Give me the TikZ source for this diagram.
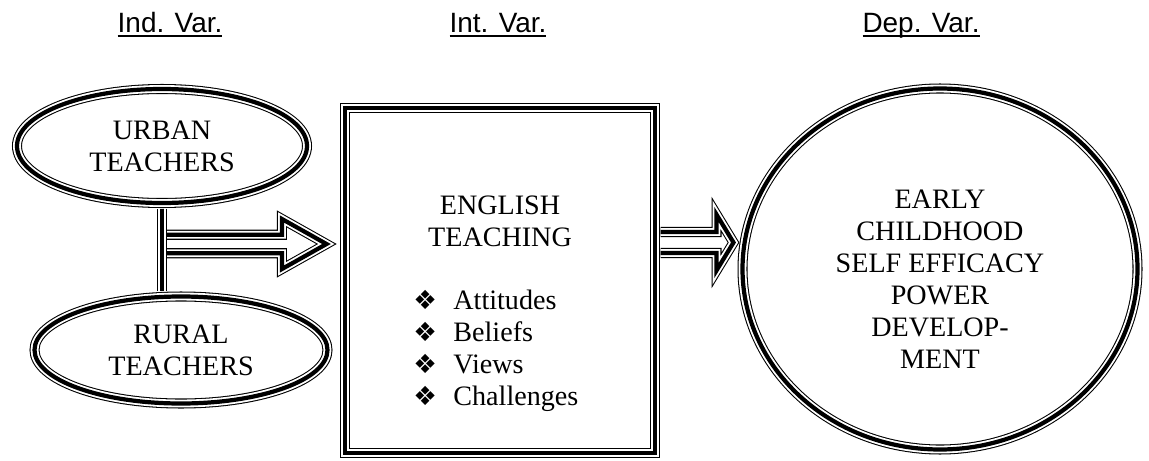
\documentclass[tikz,border=0pt]{standalone}
\usepackage{fontspec}
\setmainfont{Liberation Serif}
\newfontfamily\hdrfont{Liberation Sans}
\newfontfamily\dingfont{DejaVu Sans}
\usetikzlibrary{shapes.geometric,calc}

\newcommand\undl[1]{\setbox0\hbox{#1}\rlap{\rule[-2.4pt]{\wd0}{1.1pt}}\box0}
\newcommand\itm[1]{\makebox[22.8pt][l]{\dingfont\fontsize{15}{15}\selectfont ❖}#1}

\begin{document}
\begin{tikzpicture}[
    triple/.style={draw, double, double distance=4.5pt, line width=0.6pt, postaction={draw, line width=2.4pt}},
    txt/.style={font=\fontsize{16}{18.2}\selectfont, align=center, inner sep=0pt},
    hdr/.style={font=\hdrfont\fontsize{15.9}{18}\selectfont, inner sep=0pt, anchor=base},
    oval/.style={ellipse, triple, inner sep=0pt, txt}
  ]
            \useasboundingbox (0,0) rectangle (22.98,9.2);

            % Headings
            \node[hdr] (hind) at (3.4,8.54) {\undl{Ind. Var.}};
            \node[hdr] (hint) at (9.96,8.54) {\undl{Int. Var.}};
            \node[hdr] (hdep) at (18.42,8.54) {\undl{Dep. Var.}};

            % Independent variables
            \node[oval, minimum width=5.8cm, minimum height=2.28cm] (up) at (3.24,6.28) {URBAN\\TEACHERS};
            \node[oval, minimum width=5.86cm, minimum height=2.14cm] (low) at (3.62,2.2) {RURAL\\TEACHERS};

            % Intervening box
            \node[triple, rectangle, minimum width=6.2cm, minimum height=6.9cm, inner sep=0pt] (box) at (10,3.59) {};
            \node[txt] (boxtitle) at (10,4.78) {ENGLISH\\TEACHING};
            \node[txt, align=left, anchor=west] (items) at (8.26,2.18) {\itm{Attitudes}\\\itm{Beliefs}\\\itm{Views}\\\itm{Challenges}};

            % Dependent variable
            \node[oval, minimum width=7.9cm, minimum height=7.22cm] (dep) at (18.8,3.82) {};
            \node[txt] (deptext) at (18.8,3.62) {EARLY\\CHILDHOOD\\SELF EFFICACY\\POWER\\DEVELOP-\\MENT};

            % Joining bar
            \draw[triple, shorten <=0.1cm, shorten >=0.1cm] (up.south) -- (up.south |- low.north);

            % Arrow into the box
            \coordinate (ja) at ([xshift=0.1cm]up.south |- 0,4.32);
            \coordinate (ta) at ([xshift=-0.36cm]box.west |- ja);
            \coordinate (hba) at ([xshift=-0.89cm]ta);
            \draw[triple] ([yshift=0.185cm]ja) -- ([yshift=0.185cm]hba) -- ([yshift=0.5cm]hba) -- (ta)
                -- ([yshift=-0.5cm]hba) -- ([yshift=-0.185cm]hba) -- ([yshift=-0.185cm]ja);

            % Arrow into the circle
            \coordinate (jb) at ([xshift=0.1cm]box.east |- 0,4.35);
            \coordinate (tb) at (14.67,4.35);
            \coordinate (hbb) at ([xshift=-0.34cm]tb);
            \draw[triple] ([yshift=0.21cm]jb) -- ([yshift=0.21cm]hbb) -- ([yshift=0.56cm]hbb) -- (tb)
                -- ([yshift=-0.56cm]hbb) -- ([yshift=-0.21cm]hbb) -- ([yshift=-0.21cm]jb);
        \end{tikzpicture}
\end{document}
